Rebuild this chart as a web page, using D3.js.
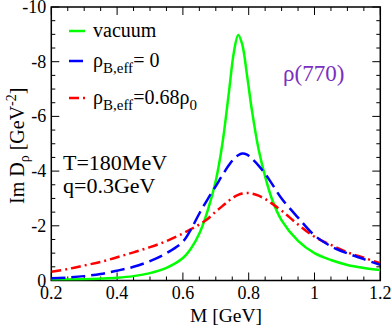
<!DOCTYPE html>
<html><head><meta charset="utf-8">
<script src="https://cdn.jsdelivr.net/npm/d3@7"></script>
<style>body{margin:0;background:#fff;} svg{display:block;}</style>
</head><body>
<svg id="c" width="392" height="327"></svg>
<script>
const massGeV = [0.20,0.25,0.30,0.35,0.40,0.45,0.50,0.55,0.60,0.625,0.65,0.675,0.70,0.72,0.74,0.755,0.768,0.78,0.795,0.81,0.83,0.85,0.87,0.90,0.95,1.00,1.05,1.10,1.15,1.20];
const vacuum = [-0.03,-0.04,-0.05,-0.07,-0.10,-0.16,-0.27,-0.46,-0.82,-1.18,-1.72,-2.55,-3.65,-5.0,-6.9,-8.35,-8.98,-8.65,-7.5,-6.2,-4.8,-3.8,-3.0,-2.2,-1.45,-1.0,-0.75,-0.57,-0.46,-0.38];
const rhoZero = [-0.08,-0.11,-0.16,-0.24,-0.36,-0.50,-0.71,-1.0,-1.42,-1.88,-2.45,-2.97,-3.45,-3.85,-4.22,-4.45,-4.58,-4.64,-4.6,-4.45,-4.2,-3.9,-3.55,-3.0,-2.3,-1.65,-1.25,-0.99,-0.78,-0.57];
const rhoDense = [-0.32,-0.42,-0.55,-0.68,-0.85,-1.03,-1.22,-1.44,-1.72,-1.88,-2.05,-2.25,-2.52,-2.72,-2.92,-3.05,-3.13,-3.18,-3.2,-3.18,-3.1,-2.98,-2.82,-2.55,-2.05,-1.6,-1.3,-1.03,-0.83,-0.63];
const xTicks = [0.2,0.4,0.6,0.8,1,1.2];
const yTicks = [-10,-8,-6,-4,-2,0];

const FONT = "'Liberation Serif'";
const svg = d3.select("#c");
const L=51.3, R=380.3, T=7, B=280.5;
const x = d3.scaleLinear().domain([0.2,1.2]).range([L,R]);
const y = d3.scaleLinear().domain([0,-10]).range([B,T]);
function txt(sel, size){ return sel.append("text").style("font-family",FONT).style("font-size",size+"px"); }

const g = svg.append("g");
const xMinor = d3.range(0.2,1.2001,0.05);
const yMinor = d3.range(0,-10.001,-0.5);
xMinor.forEach(v=>{
  const major = xTicks.some(t=>Math.abs(t-v)<1e-6);
  const len = major?8:4;
  g.append("line").attr("x1",x(v)).attr("x2",x(v)).attr("y1",B).attr("y2",B-len).attr("stroke","#000");
  g.append("line").attr("x1",x(v)).attr("x2",x(v)).attr("y1",T).attr("y2",T+len).attr("stroke","#000");
});
yMinor.forEach(v=>{
  const major = yTicks.some(t=>Math.abs(t-v)<1e-6);
  const len = major?8:4;
  g.append("line").attr("y1",y(v)).attr("y2",y(v)).attr("x1",L).attr("x2",L+len).attr("stroke","#000");
  g.append("line").attr("y1",y(v)).attr("y2",y(v)).attr("x1",R).attr("x2",R-len).attr("stroke","#000");
});
g.append("rect").attr("x",L).attr("y",T).attr("width",R-L).attr("height",B-T).attr("fill","none").attr("stroke","#000").attr("stroke-width",1.5);

xTicks.forEach(t=>{
  txt(g,18).attr("x",x(t)).attr("y",B+18).attr("text-anchor","middle").text(t===1?"1":d3.format(".1f")(t));
});
yTicks.forEach(t=>{
  txt(g,18).attr("x",L-5).attr("y",y(t)+6).attr("text-anchor","end").text(t);
});

txt(g,19.5).attr("x",226).attr("y",322).attr("text-anchor","middle").text("M [GeV]");
const yl = txt(g,20).attr("transform","translate(24,"+((T+B)/2+2)+") rotate(-90)").attr("text-anchor","middle");
yl.append("tspan").text("Im D");
yl.append("tspan").style("font-size","14px").attr("dy",5).text("ρ");
yl.append("tspan").attr("dy",-5).text(" [GeV");
yl.append("tspan").style("font-size","14px").attr("dy",-8).text("-2");
yl.append("tspan").attr("dy",8).text("]");

const line = d3.line().x((d,i)=>x(massGeV[i])).y(d=>y(d)).curve(d3.curveCatmullRom.alpha(0.5));
svg.append("clipPath").attr("id","clp").append("rect").attr("x",L).attr("y",T).attr("width",R-L).attr("height",B-T);
const cg = svg.append("g").attr("clip-path","url(#clp)");
cg.append("path").attr("d",line(vacuum)).attr("fill","none").attr("stroke","#00ff00").attr("stroke-width",2.5);
cg.append("path").attr("d",line(rhoDense)).attr("fill","none").attr("stroke","#ff0000").attr("stroke-width",2.5).attr("stroke-dasharray","10,4,2,4");
cg.append("path").attr("d",line(rhoZero)).attr("fill","none").attr("stroke","#0000ff").attr("stroke-width",2.5).attr("stroke-dasharray","14,6");

const leg = [{c:"#00ff00",d:null,y:31},{c:"#0000ff",d:"14,6",y:61},{c:"#ff0000",d:"10,4,2,4",y:98}];
leg.forEach(l=>{
  svg.append("line").attr("x1",69).attr("x2",85).attr("y1",l.y).attr("y2",l.y).attr("stroke",l.c).attr("stroke-width",2.5).attr("stroke-dasharray",l.d);
});
txt(svg,20).attr("x",93).attr("y",37).text("vacuum");
const t2 = txt(svg,20).attr("x",93).attr("y",67);
t2.append("tspan").text("ρ");
t2.append("tspan").style("font-size","15px").attr("dy",6).text("B,eff");
t2.append("tspan").attr("dy",-6).text("= 0");
const t3 = txt(svg,20).attr("x",93).attr("y",104);
t3.append("tspan").text("ρ");
t3.append("tspan").style("font-size","15px").attr("dy",6).text("B,eff");
t3.append("tspan").attr("dy",-6).text("=0.68ρ");
t3.append("tspan").style("font-size","15px").attr("dy",6).text("0");

txt(svg,22).attr("x",63).attr("y",170).text("T=180MeV");
txt(svg,22).attr("x",63).attr("y",193).text("q=0.3GeV");
txt(svg,23).attr("x",283).attr("y",81).attr("fill","#7a2fc0").text("ρ(770)");
</script>
</body></html>
